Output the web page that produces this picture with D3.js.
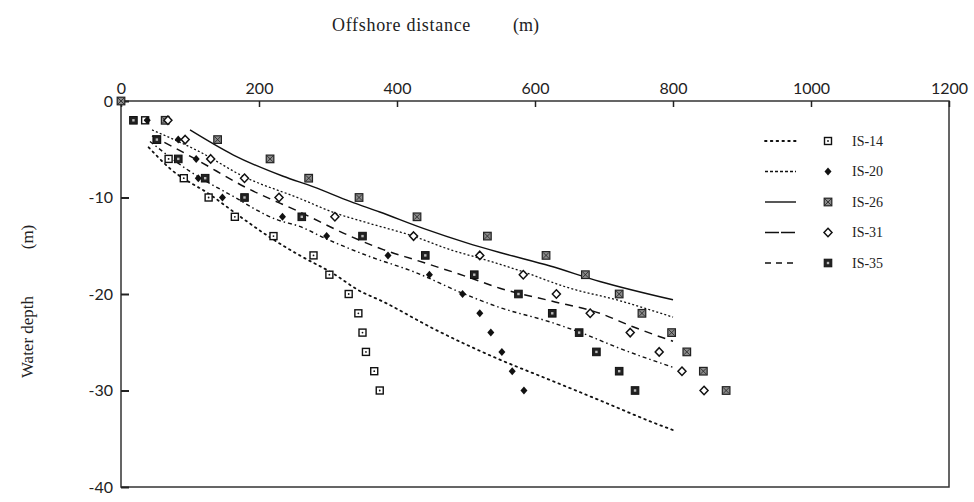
<!DOCTYPE html>
<html>
<head>
<meta charset="utf-8">
<script src="https://cdn.jsdelivr.net/npm/d3@7"></script>
<style>
  html, body { margin: 0; padding: 0; background: #fff; }
  svg { display: block; }
  .tick text { font-family: Lato, "Open Sans", sans-serif; font-size: 16px; fill: #222; }
  .serif { font-family: "Liberation Serif", "DejaVu Serif", serif; fill: #222; }
</style>
</head>
<body>
<svg id="chart" width="974" height="502"></svg>
<script>
// axis ticks
const distanceTicks = [0, 200, 400, 600, 800, 1000, 1200]
const depthTicks = [0, -10, -20, -30, -40]
const seriesNames = ['IS-14', 'IS-20', 'IS-26', 'IS-31', 'IS-35']

// measured points: [offshore distance (m), water depth (m)]
const is14Points = [[35,-2],[52,-4],[69,-6],[91,-8],[127,-10],[165,-12],[221,-14],[279,-16],[302,-18],[330,-20],[344,-22],[350,-24],[355,-26],[367,-28],[375,-30]]
const is20Points = [[38,-2],[83,-4],[109,-6],[112,-8],[147,-10],[234,-12],[298,-14],[387,-16],[447,-18],[495,-20],[520,-22],[536,-24],[552,-26],[567,-28],[584,-30]]
const is26Points = [[0,0],[64,-2],[140,-4],[216,-6],[272,-8],[345,-10],[429,-12],[531,-14],[616,-16],[673,-18],[722,-20],[755,-22],[798,-24],[820,-26],[844,-28],[877,-30]]
const is31Points = [[68,-2],[93,-4],[130,-6],[179,-8],[229,-10],[310,-12],[424,-14],[520,-16],[583,-18],[631,-20],[680,-22],[738,-24],[780,-26],[813,-28],[845,-30]]
const is35Points = [[18,-2],[52,-4],[83,-6],[122,-8],[179,-10],[262,-12],[350,-14],[441,-16],[512,-18],[576,-20],[625,-22],[664,-24],[689,-26],[722,-28],[745,-30]]

// fitted profiles
const is14Curve = [[40,-4.8],[71,-7.0],[129,-9.7],[177,-12.2],[211,-13.9],[259,-16.0],[308,-17.9],[344,-19.6],[380,-20.8],[453,-23.6],[549,-26.8],[618,-28.8],[700,-31.2],[767,-33.2],[800,-34.1]]
const is20Curve = [[45,-3.0],[115,-5.3],[177,-7.8],[259,-10.1],[310,-11.6],[356,-12.6],[419,-13.9],[477,-15.4],[530,-16.5],[583,-17.7],[646,-19.3],[723,-20.7],[800,-22.4]]
const is26Curve = [[100,-3.0],[163,-5.6],[235,-7.8],[279,-8.9],[332,-10.4],[375,-11.5],[438,-13.2],[501,-14.7],[549,-15.7],[622,-17.1],[694,-18.7],[800,-20.6]]
const is31Curve = [[42,-4.2],[100,-7.3],[158,-9.7],[226,-12.3],[259,-13.0],[298,-14.3],[356,-16.0],[428,-17.8],[491,-19.8],[549,-21.4],[622,-22.9],[670,-24.1],[718,-25.5],[800,-27.6]]
const is35Curve = [[45,-3.6],[110,-6.1],[182,-9.0],[259,-11.5],[332,-14.0],[380,-15.4],[428,-16.5],[501,-18.2],[549,-19.4],[622,-20.7],[694,-22.0],[742,-23.4],[800,-24.9]]

const series = [
    {name: 'IS-14', points: is14Points, curve: is14Curve, dash: '1.6,4.2', legendDash: '1.6,4.2', width: 1.8, marker: 'openSquare'},
    {name: 'IS-20', points: is20Points, curve: is20Curve, dash: '2,2.2', legendDash: '3,2', width: 1.3, marker: 'filledDiamond'},
    {name: 'IS-26', points: is26Points, curve: is26Curve, dash: null, legendDash: null, width: 1.4, marker: 'hatchSquare'},
    {name: 'IS-31', points: is31Points, curve: is31Curve, dash: '4,3,1.5,3', legendDash: '14,2', width: 1.4, marker: 'openDiamond'},
    {name: 'IS-35', points: is35Points, curve: is35Curve, dash: '8,6', legendDash: '6,5', width: 1.5, marker: 'darkSquare'}
]

const svg = d3.select('#chart')
const plot = {left: 121, right: 949, top: 101, bottom: 487}

const x = d3.scaleLinear().domain([0, 1200]).range([plot.left, plot.right])
const y = d3.scaleLinear().domain([0, -40]).range([plot.top, plot.bottom])

// frame
svg.append('rect')
    .attr('x', plot.left).attr('y', plot.top)
    .attr('width', plot.right - plot.left).attr('height', plot.bottom - plot.top)
    .attr('fill', 'none').attr('stroke', '#333').attr('stroke-width', 1.5)

const topAxis = svg.append('g')
    .attr('transform', `translate(0,${plot.top})`)
    .call(d3.axisTop(x).tickValues(distanceTicks).tickSizeInner(-6).tickSizeOuter(0).tickPadding(7).tickFormat(d => String(d)))
topAxis.select('.domain').remove()
topAxis.selectAll('line').attr('stroke', '#222').attr('stroke-width', 1.5)

const leftAxis = svg.append('g')
    .attr('transform', `translate(${plot.left},0)`)
    .call(d3.axisLeft(y).tickValues(depthTicks).tickSizeInner(-8).tickSizeOuter(0).tickPadding(8).tickFormat(d => String(d)))
leftAxis.select('.domain').remove()
leftAxis.selectAll('line').attr('stroke', '#222').attr('stroke-width', 2)

// titles
svg.append('text')
    .attr('class', 'serif')
    .attr('x', 332).attr('y', 31)
    .style('font-size', '18px')
    .style('letter-spacing', '0.7px')
    .text('Offshore distance')
svg.append('text')
    .attr('class', 'serif')
    .attr('x', 513).attr('y', 31)
    .style('font-size', '18px')
    .text('(m)')

svg.append('text')
    .attr('class', 'serif')
    .attr('transform', 'translate(33,337) rotate(-90)')
    .attr('text-anchor', 'middle')
    .style('font-size', '17px')
    .text('Water depth')
svg.append('text')
    .attr('class', 'serif')
    .attr('transform', 'translate(33,237) rotate(-90)')
    .attr('text-anchor', 'middle')
    .style('font-size', '17px')
    .text('(m)')

// profiles
const line = d3.line().x(d => x(d[0])).y(d => y(d[1])).curve(d3.curveMonotoneX)

svg.append('g').selectAll('path')
    .data(series)
    .enter()
        .append('path')
        .attr('d', d => line(d.curve))
        .attr('fill', 'none')
        .attr('stroke', '#111')
        .attr('stroke-width', d => d.width)
        .attr('stroke-linecap', d => d.name === 'IS-14' ? 'round' : 'butt')
        .attr('stroke-dasharray', d => d.dash)

function drawMarker(g, type) {
    if (type === 'openSquare') {
        g.append('rect').attr('x', -3.5).attr('y', -3.5).attr('width', 7).attr('height', 7)
            .attr('fill', '#fff').attr('stroke', '#111').attr('stroke-width', 1.4)
        g.append('circle').attr('r', 0.9).attr('fill', '#111')
    } else if (type === 'filledDiamond') {
        g.append('path').attr('d', 'M0,-4L3.5,0L0,4L-3.5,0Z').attr('fill', '#111')
    } else if (type === 'openDiamond') {
        g.append('path').attr('d', 'M0,-4.2L4,0L0,4.2L-4,0Z')
            .attr('fill', '#fff').attr('stroke', '#111').attr('stroke-width', 1.5)
    } else if (type === 'hatchSquare') {
        g.append('rect').attr('x', -3.8).attr('y', -3.8).attr('width', 7.6).attr('height', 7.6)
            .attr('fill', '#8a8a8a').attr('stroke', '#222').attr('stroke-width', 1.2)
        g.append('path').attr('d', 'M-3,-3L3,3M-3,3L3,-3').attr('stroke', '#222').attr('stroke-width', 0.8)
    } else {
        g.append('rect').attr('x', -3.8).attr('y', -3.8).attr('width', 7.6).attr('height', 7.6)
            .attr('fill', '#222').attr('stroke', '#111').attr('stroke-width', 1)
        g.append('rect').attr('x', -1.2).attr('y', -1.2).attr('width', 2.4).attr('height', 2.4).attr('fill', '#bbb')
    }
}

series.forEach(s => {
    svg.append('g').selectAll('g')
        .data(s.points)
        .enter()
            .append('g')
            .attr('transform', d => `translate(${x(d[0])},${y(d[1])})`)
            .each(function() { drawMarker(d3.select(this), s.marker) })
})

// legend
const legendY = d3.scalePoint().domain(seriesNames).range([141, 263])
const legend = svg.append('g')
series.forEach(s => {
    const ly = legendY(s.name)
    legend.append('line')
        .attr('x1', 765).attr('x2', 796).attr('y1', ly).attr('y2', ly)
        .attr('stroke', '#111').attr('stroke-width', s.width)
        .attr('stroke-linecap', s.name === 'IS-14' ? 'round' : 'butt')
        .attr('stroke-dasharray', s.legendDash)
    const m = legend.append('g').attr('transform', `translate(828,${ly})`)
    drawMarker(m, s.marker)
    legend.append('text')
        .attr('class', 'serif')
        .attr('x', 852).attr('y', ly).attr('dy', '0.35em')
        .style('font-size', '14px')
        .text(s.name)
})
</script>
</body>
</html>
